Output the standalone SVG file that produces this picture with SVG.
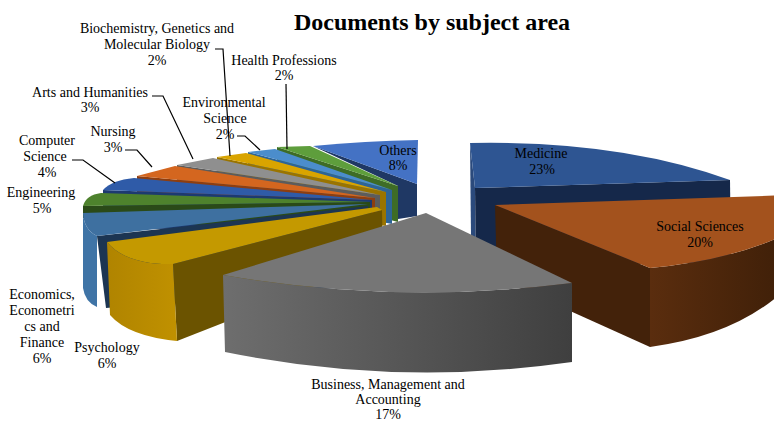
<svg xmlns="http://www.w3.org/2000/svg" width="774" height="421" viewBox="0 0 774 421">
<style>
text{font-family:"Liberation Serif","Times New Roman",serif;font-size:14px;fill:#000;text-anchor:middle}
.title{font-size:24px;font-weight:bold}
.lead{fill:none;stroke:#000;stroke-width:1.2}
</style>
<defs>
<linearGradient id="gBus" x1="0" y1="0" x2="1" y2="0">
<stop offset="0" stop-color="#6e6e6e"/><stop offset="1" stop-color="#3f3f3f"/>
</linearGradient>
<linearGradient id="gSoc" x1="0" y1="0" x2="1" y2="0">
<stop offset="0" stop-color="#5a2d0e"/><stop offset="1" stop-color="#3e1f08"/>
</linearGradient>
<linearGradient id="gPsy" x1="0" y1="0" x2="1" y2="0">
<stop offset="0" stop-color="#b08400"/><stop offset="1" stop-color="#c09100"/>
</linearGradient>
</defs>
<rect width="774" height="421" fill="#fff"/>
<text class="title" x="432" y="30">Documents by subject area</text>

<g id="others">
<path d="M313,146 L417,184 L417,216 L398,219 L398,186 Z" fill="#1f3864"/>
<path d="M313,146 Q365,141 418,140 L417,184 Z" fill="#4472c4"/>
<text x="398" y="155">Others</text><text x="398" y="170">8%</text>
</g>
<g id="health">
<path d="M277,147 L398,186 L398,222 L277,190 Z" fill="#3e6c26"/>
<path d="M277,147 L310,146 L398,186 Z" fill="#5e9e3c"/>
<text x="284" y="65">Health Professions</text><text x="284" y="80">2%</text>
</g>
<g id="environmental">
<path d="M248,152 L392,190 L392,224 L248,196 Z" fill="#2d6497"/>
<path d="M248,152 L275,149 L392,190 Z" fill="#4b8dcc"/>
<text x="224" y="107">Environmental</text><text x="225" y="123">Science</text><text x="225" y="139">2%</text>
</g>
<g id="biochemistry">
<path d="M217,157 L386,192 L386,226 L217,202 Z" fill="#9a7400"/>
<path d="M217,157 L246,153 L386,192 Z" fill="#d9a400"/>
<text x="157" y="33">Biochemistry, Genetics and</text><text x="157" y="49">Molecular Biology</text><text x="157" y="65">2%</text>
</g>
<g id="arts">
<path d="M177,165 L380,195 L380,228 L177,208 Z" fill="#5c5c5c"/>
<path d="M177,165 L213,158 L380,195 Z" fill="#8f8f8f"/>
<text x="90" y="97">Arts and Humanities</text><text x="90" y="112">3%</text>
</g>
<g id="nursing">
<path d="M137,176 L375,198 L375,230 L137,216 Z" fill="#8e3e10"/>
<path d="M137,176 L175,166 L375,198 Z" fill="#d4661f"/>
<text x="113" y="136">Nursing</text><text x="113" y="152">3%</text>
</g>
<g id="computer-science">
<path d="M103,190 L372,200 L372,232 L103,228 Z" fill="#1d3a70"/>
<path d="M103,190 Q112,180 134,178 L372,200 Z" fill="#2f5ba8"/>
<text x="47" y="145">Computer</text><text x="45" y="161">Science</text><text x="47" y="177">4%</text>
</g>
<g id="engineering">
<path d="M83,206 L370,202 L370,234 L83,218 Z" fill="#2a4a18"/>
<path d="M83,206 Q86,195 101,193 L370,202 Z" fill="#4e822d"/>
<text x="41" y="197">Engineering</text><text x="42" y="213">5%</text>
</g>
<g id="economics">
<path d="M97,236 L368,206 L370,285 L106,308 Z" fill="#1c3552"/>
<path d="M83,213 Q84,230 97,236 L97,307 Q85,302 83,288 Z" fill="#3f74a6"/>
<path d="M83,213 L368,204 L97,236 Q84,230 83,213 Z" fill="#3e70a0"/>
<text x="42" y="299">Economics,</text><text x="42" y="315">Econometri</text><text x="42" y="331">cs and</text><text x="42" y="347">Finance</text><text x="42" y="363">6%</text>
</g>
<g id="psychology">
<path d="M173,264 L382,210 L383,260 L177,341 Z" fill="#6b5300"/>
<path d="M107,242 Q126,265 173,264 L177,341 Q128,336 110,315 Z" fill="url(#gPsy)"/>
<path d="M107,242 L377,207 L382,210 L173,264 Q126,265 107,242 Z" fill="#c49900"/>
<text x="107" y="352">Psychology</text><text x="107" y="368">6%</text>
</g>
<g id="medicine">
<path d="M470,143 L475,188 L476,268 L471,238 Z" fill="#2b4a7c"/>
<path d="M475,188 L730,180 L731,262 L476,268 Z" fill="#15284a"/>
<path d="M470,143 Q620,140 730,180 L475,188 Z" fill="#2e5592"/>
<text x="541" y="158">Medicine</text><text x="542" y="174">23%</text>
</g>
<g id="social-sciences">
<path d="M495,205 L650,268 L650,347 L497,278 Z" fill="#43220a"/>
<path d="M650,268 Q735,260 790,232 L790,285 Q740,335 650,347 Z" fill="url(#gSoc)"/>
<path d="M495,205 L790,195 L790,232 Q735,260 650,268 Z" fill="#a3521d"/>
<text x="700" y="231">Social Sciences</text><text x="700" y="247">20%</text>
</g>
<g id="business">
<path d="M223,275 Q397,305 572,283 L572,362 Q398,387 225,352 Z" fill="url(#gBus)"/>
<path d="M426,213 L572,283 Q397,305 223,275 Z" fill="#767676"/>
<text x="388" y="389">Business, Management and</text><text x="388" y="404">Accounting</text><text x="388" y="419">17%</text>
</g>

<g id="connectors">
<path class="lead" d="M215,49 H223 L230,156"/>
<path class="lead" d="M286,84 L287,149"/>
<path class="lead" d="M152,96 H163 L193,159"/>
<path class="lead" d="M237,136 H245 L260,150"/>
<path class="lead" d="M125,150 H137 L152,167"/>
<path class="lead" d="M72,160 H83 L115,183"/>
</g>
</svg>
